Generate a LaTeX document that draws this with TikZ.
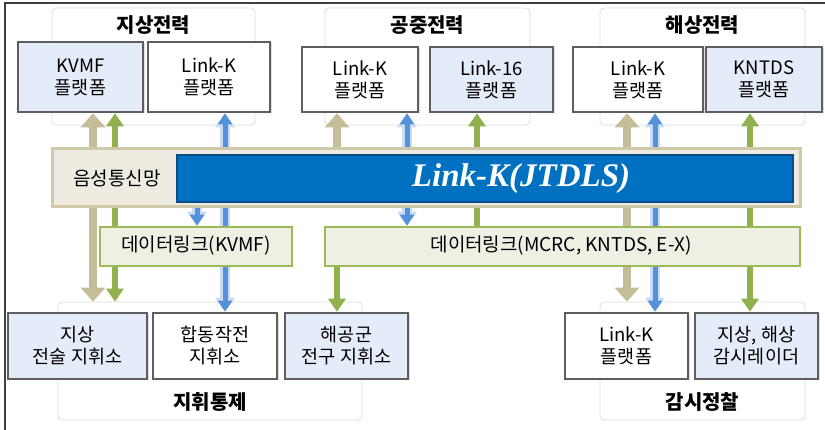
\documentclass[tikz,border=0pt]{standalone}
\usepackage{fontspec}
\setmainfont{Noto Sans CJK KR}
\newfontfamily\lkfont{Liberation Serif}
\usetikzlibrary{arrows.meta,shadows}
\definecolor{framecol}{HTML}{3F3F3F}
\definecolor{grpline}{HTML}{DCDCDC}
\definecolor{platline}{HTML}{5E5E5E}
\definecolor{platblue}{HTML}{E3ECF8}
\definecolor{dlgreen}{HTML}{9BBB59}
\definecolor{dlfill}{HTML}{EEF0E4}
\definecolor{tanline}{HTML}{CFC8A9}
\definecolor{tanfill}{HTML}{EEECE1}
\definecolor{tanarrow}{HTML}{C4BD97}
\definecolor{greenarrow}{HTML}{8FB24E}
\definecolor{bluearrow}{HTML}{5590DA}
\definecolor{blueglowc}{HTML}{C9DCF4}
\definecolor{bluebar}{HTML}{0070C0}
\definecolor{bluebarline}{HTML}{0D4A8A}
\pgfdeclarelayer{bg}
\pgfdeclarelayer{arr}
\pgfsetlayers{bg,arr,main}
\begin{document}
\begin{tikzpicture}[x=1pt,y=-1pt,
  grp/.style={draw=grpline, fill=white, rounded corners=4pt, line width=0.8pt, inner sep=0pt},
  plat/.style={draw=platline, line width=2.6pt, fill=white, align=center, inner sep=0pt,
     font=\fontsize{18.5}{22}\selectfont, drop shadow={opacity=0.25, shadow xshift=1.5pt, shadow yshift=-1.5pt}},
  platb/.style={plat, fill=platblue},
  dl/.style={draw=dlgreen, line width=2.6pt, fill=dlfill, inner sep=0pt},
  voice/.style={draw=tanline, line width=3pt, fill=tanfill, inner sep=0pt},
  jtbar/.style={draw=bluebarline, line width=2pt, fill=bluebar, inner sep=0pt},
  txt/.style={font=\fontsize{19}{22}\selectfont, inner sep=0pt},
  glab/.style={font=\bfseries\fontsize{20}{22}\selectfont, inner sep=0pt},
  tanarr/.style={draw=tanarrow, line width=8pt, >={Triangle[width=24pt,length=14pt]}},
  grnarr/.style={draw=greenarrow, line width=6pt, >={Triangle[width=17pt,length=13pt]}},
  bluglow/.style={draw=blueglowc, line width=10pt, >={Triangle[width=19pt,length=14pt]}},
  bluarr/.style={draw=bluearrow, line width=5pt, >={Triangle[width=14pt,length=11pt]}}
]
\useasboundingbox (0,0) rectangle (825,430);
\draw[framecol, line width=1.2pt] (5,430) -- (5,3) -- (825,3);

\begin{pgfonlayer}{bg}
\node[grp, minimum width=203pt, minimum height=117pt] (g1) at (153.5,66.5) {};
\node[grp, minimum width=205pt, minimum height=117pt] (g2) at (427.5,66.5) {};
\node[grp, minimum width=205pt, minimum height=117pt] (g3) at (702.5,66.5) {};
\node[grp, minimum width=304pt, minimum height=118pt] (g4) at (210,361) {};
\node[grp, minimum width=205pt, minimum height=118pt] (g5) at (702.5,361) {};
\end{pgfonlayer}
\node[glab] (l1) at (153.5,25) {지상전력};
\node[glab] (l2) at (427.5,25) {공중전력};
\node[glab] (l3) at (702.5,25) {해상전력};
\node[glab] (l4) at (210,402) {지휘통제};
\node[glab] (l5) at (702.5,402) {감시정찰};

% top platforms
\node[platb, minimum width=125pt, minimum height=70pt] (kvmf) at (80.5,77) {KVMF\\플랫폼};
\node[plat, minimum width=122pt, minimum height=70pt] (lkg) at (209,77) {Link-K\\플랫폼};
\node[plat, minimum width=116pt, minimum height=65pt] (lka) at (360,79.5) {Link-K\\플랫폼};
\node[platb, minimum width=123pt, minimum height=65pt] (l16) at (491.5,79.5) {Link-16\\플랫폼};
\node[plat, minimum width=130pt, minimum height=65pt] (lkn) at (638,79.5) {Link-K\\플랫폼};
\node[platb, minimum width=116pt, minimum height=65pt] (kntds) at (764,79.5) {KNTDS\\플랫폼};

% bars
\node[voice, minimum width=748pt, minimum height=58pt] (voice) at (426,178) {};
\node[txt] (vtxt) at (117,178) {음성통신망};
\node[jtbar, minimum width=616pt, minimum height=47pt] (jt) at (485,178.5) {};
\node[text=white, inner sep=0pt, font=\lkfont\bfseries\itshape\fontsize{33}{36}\selectfont] (jtxt) at (521,179) {Link-K(JTDLS)};

% data links
\node[dl, minimum width=192pt, minimum height=39pt] (d1) at (196,246.5) {};
\node[txt] (d1t) at (196,246) {데이터링크(KVMF)};
\node[dl, minimum width=475pt, minimum height=39pt] (d2) at (562.5,246.5) {};
\node[txt] (d2t) at (561,246) {데이터링크(MCRC, KNTDS, E-X)};

% bottom boxes
\node[platb, minimum width=139pt, minimum height=66pt] (b1) at (77.5,346) {지상\\전술 지휘소};
\node[plat, minimum width=124pt, minimum height=66pt] (b2) at (215,346) {합동작전\\지휘소};
\node[platb, minimum width=123pt, minimum height=66pt] (b3) at (346.5,346) {해공군\\전구 지휘소};
\node[plat, minimum width=123pt, minimum height=66pt] (b4) at (626.5,346) {Link-K\\플랫폼};
\node[platb, minimum width=123pt, minimum height=66pt] (b5) at (756.5,346) {지상, 해상\\감시레이더};

% arrow columns
\coordinate (c93) at (93,0);
\coordinate (c115) at (115,0);
\coordinate (c197) at (197,0);
\coordinate (c225) at (225,0);
\coordinate (c337) at (337,0);
\coordinate (c407) at (407,0);
\coordinate (c477) at (477,0);
\coordinate (c627) at (627,0);
\coordinate (c655) at (655,0);
\coordinate (c750) at (750,0);

\begin{pgfonlayer}{arr}
\draw[tanarr,<->] (c93 |- kvmf.south) -- (c93 |- g4.north);
\draw[grnarr,<->] (c115 |- kvmf.south) -- (c115 |- g4.north);
\draw[bluglow,<->] (c225 |- lkg.south) -- (c225 |- b2.north);
\draw[bluarr,<->] (c225 |- lkg.south) -- (c225 |- b2.north);
\draw[bluglow,->] (c197 |- jt.south) -- (c197 |- d1.north);
\draw[bluarr,->] (c197 |- jt.south) -- (c197 |- d1.north);
\draw[tanarr,->] (c337 |- voice.north) -- (c337 |- lka.south);
\draw[bluglow,<->] (c407 |- lka.south) -- (c407 |- d2.north);
\draw[bluarr,<->] (c407 |- lka.south) -- (c407 |- d2.north);
\draw[grnarr,->] (c477 |- d2.north) -- (c477 |- l16.south);
\draw[grnarr,->] (c337 |- d2.south) -- (c337 |- b3.north);
\draw[tanarr,<->] (c627 |- lkn.south) -- (c627 |- g5.north);
\draw[bluglow,<->] (c655 |- lkn.south) -- (c655 |- b4.north);
\draw[bluarr,<->] (c655 |- lkn.south) -- (c655 |- b4.north);
\draw[grnarr,<->] (c750 |- kntds.south) -- (c750 |- b5.north);
\end{pgfonlayer}
\end{tikzpicture}
\end{document}
